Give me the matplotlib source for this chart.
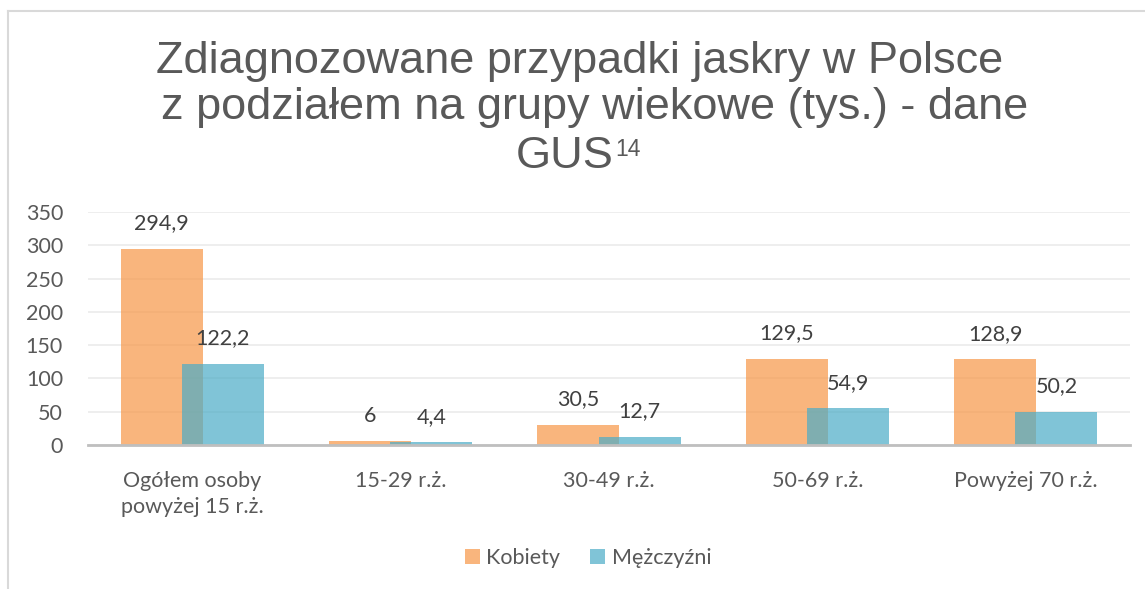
import matplotlib.pyplot as plt
from matplotlib.lines import Line2D
from matplotlib.patches import Patch

categories = ["Ogółem osoby\npowyżej 15 r.ż.", "15-29 r.ż.", "30-49 r.ż.", "50-69 r.ż.", "Powyżej 70 r.ż."]
kobiety = [294.9, 6, 30.5, 129.5, 128.9]
mezczyzni = [122.2, 4.4, 12.7, 54.9, 50.2]
kob_labels = ["294,9", "6", "30,5", "129,5", "128,9"]
mez_labels = ["122,2", "4,4", "12,7", "54,9", "50,2"]
title_lines = ["Zdiagnozowane przypadki jaskry w Polsce", "z podziałem na grupy wiekowe (tys.) - dane", "GUS"]

orange = "#F79646"
teal = "#4BACC6"
text_color = "#595959"
label_color = "#404040"
tick_font = "Lato"
fs = 15.5

fig = plt.figure(figsize=(11.45, 5.89), dpi=100)

# chart area border (only left and top are visible in the crop)
fig.add_artist(Line2D([8 / 1145, 8 / 1145], [0, 1 - 11 / 589], color="#D9D9D9", lw=1.5))
fig.add_artist(Line2D([8 / 1145, 1], [1 - 11 / 589, 1 - 11 / 589], color="#D9D9D9", lw=1.5))

ax = fig.add_axes([88 / 1145, 1 - 445 / 589, (1130 - 88) / 1145, (445 - 212) / 589])

x = list(range(len(categories)))
width = 0.393
off = 0.147
ax.bar([i - off for i in x], kobiety, width, color=orange, alpha=0.7, label="Kobiety", zorder=2)
ax.bar([i + off for i in x], mezczyzni, width, color=teal, alpha=0.7, label="Mężczyźni", zorder=3)

for i in x:
    ax.annotate(kob_labels[i], (i - off, kobiety[i]), xytext=(0, 11), textcoords="offset points",
                ha="center", va="bottom", fontsize=fs, family=tick_font, color=label_color)
    ax.annotate(mez_labels[i], (i + off, mezczyzni[i]), xytext=(0, 11), textcoords="offset points",
                ha="center", va="bottom", fontsize=fs, family=tick_font, color=label_color)

ax.set_xlim(-0.5, 4.5)
ax.set_ylim(0, 350)
ax.set_yticks(range(0, 351, 50))
ax.set_xticks(x)
ax.set_xticklabels(categories, family=tick_font, fontsize=fs, color=text_color, linespacing=1.35)
for lbl in ax.get_yticklabels():
    lbl.set_family(tick_font)
    lbl.set_fontsize(fs)
    lbl.set_color(text_color)
ax.tick_params(axis="both", length=0)
ax.tick_params(axis="x", pad=19)
ax.tick_params(axis="y", pad=18)
ax.grid(axis="y", color="#EBEBEB", lw=1.2, zorder=0)
ax.set_axisbelow(True)
for s in ["top", "right", "left"]:
    ax.spines[s].set_visible(False)
ax.spines["bottom"].set_color("#BFBFBF")
ax.spines["bottom"].set_linewidth(2)
ax.spines["bottom"].set_zorder(4)

# title, one text per line as in the original
title_x = [580, 595, 565]
title_y = [62, 108, 156]
for s, tx, ty in zip(title_lines, title_x, title_y):
    t = fig.text(tx / 1145, 1 - ty / 589, s, ha="center", va="center", fontsize=32.5,
                 family="Liberation Sans", color=text_color)
ax.annotate("14", xy=(1, 1), xycoords=t, xytext=(1, -1.5), textcoords="offset points",
            ha="left", va="top", fontsize=16.5,
            family="Liberation Sans", color=text_color, annotation_clip=False)

handles = [Patch(facecolor=orange, alpha=0.7), Patch(facecolor=teal, alpha=0.7)]
fig.legend(handles, ["Kobiety", "Mężczyźni"], loc="center", bbox_to_anchor=(588 / 1145, 1 - 558 / 589),
           ncol=2, frameon=False, prop={"family": tick_font, "size": fs}, labelcolor=text_color,
           handlelength=0.7, handleheight=0.7, handletextpad=0.3, columnspacing=1.4)

fig.savefig("out.png", dpi=100)
